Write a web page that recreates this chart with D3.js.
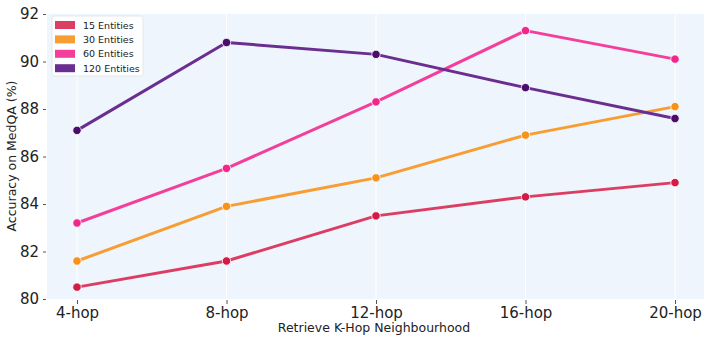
<!DOCTYPE html>
<html>
<head>
<meta charset="utf-8">
<script src="https://cdn.jsdelivr.net/npm/d3@7"></script>
<style>
  html, body { margin: 0; padding: 0; background: #fff; }
  svg { display: block; font-family: "DejaVu Sans", sans-serif; }
</style>
</head>
<body>
<svg id="chart" width="706" height="341"></svg>
<script>
// Categories along the x axis
const hops = ["4-hop", "8-hop", "12-hop", "16-hop", "20-hop"];
// Series names and values (accuracy %)
const seriesNames = ["15 Entities", "30 Entities", "60 Entities", "120 Entities"];
const acc15 = [80.5, 81.6, 83.5, 84.3, 84.9];
const acc30 = [81.6, 83.9, 85.1, 86.9, 88.1];
const acc60 = [83.2, 85.5, 88.3, 91.3, 90.1];
const acc120 = [87.1, 90.8, 90.3, 88.9, 87.6];
const yTicks = [80, 82, 84, 86, 88, 90, 92];

const lineColors = ["#dc3d63", "#f89d32", "#f33f9b", "#6a2d90"];
const dotColors = ["#d21b47", "#f7931d", "#f0268a", "#4a0d6a"];
const seriesValues = [acc15, acc30, acc60, acc120];

const svg = d3.select("#chart");
const plot = { left: 47, right: 704, top: 14, bottom: 299 };

const x = d3.scalePoint().domain(hops).range([77, 675]);
const y = d3.scaleLinear().domain([80, 92]).range([plot.bottom, plot.top]);

// Plot background
svg.append("rect")
  .attr("x", plot.left).attr("y", plot.top)
  .attr("width", plot.right - plot.left).attr("height", plot.bottom - plot.top)
  .attr("fill", "#eef5fc");

// Vertical white grid lines
svg.append("g").selectAll("line").data(hops).join("line")
  .attr("x1", d => x(d)).attr("x2", d => x(d))
  .attr("y1", plot.top).attr("y2", plot.bottom)
  .attr("stroke", "#ffffff").attr("stroke-width", 1);

// Axes
const yAxis = svg.append("g")
  .attr("transform", `translate(${plot.left - 1},0)`)
  .call(d3.axisLeft(y).tickValues(yTicks).tickSize(3).tickPadding(4));
yAxis.select(".domain").remove();
yAxis.selectAll("line").attr("stroke", "#555");
yAxis.selectAll("text").attr("font-size", 15).attr("fill", "#222")
  .attr("font-family", "DejaVu Sans, sans-serif");

const xAxis = svg.append("g")
  .attr("transform", `translate(0,${plot.bottom + 1})`)
  .call(d3.axisBottom(x).tickSize(4).tickPadding(3));
xAxis.select(".domain").remove();
xAxis.selectAll("line").attr("stroke", "#555");
xAxis.selectAll("text").attr("font-size", 15).attr("fill", "#222")
  .attr("font-family", "DejaVu Sans, sans-serif");

// Axis titles
svg.append("text")
  .attr("x", 374).attr("y", 332)
  .attr("text-anchor", "middle").attr("font-size", 12.5).attr("fill", "#222")
  .text("Retrieve K-Hop Neighbourhood");

svg.append("text")
  .attr("transform", "translate(16,156) rotate(-90)")
  .attr("text-anchor", "middle").attr("font-size", 12.5).attr("fill", "#222")
  .text("Accuracy on MedQA (%)");

// Lines and markers
const line = d3.line().x((d, i) => x(hops[i])).y(d => y(d));
seriesValues.forEach((vals, s) => {
  const g = svg.append("g");
  g.append("path").datum(vals)
    .attr("d", line).attr("fill", "none")
    .attr("stroke", lineColors[s]).attr("stroke-width", 3)
    .attr("stroke-linejoin", "round").attr("stroke-linecap", "round");
  g.selectAll("circle").data(vals).join("circle")
    .attr("cx", (d, i) => x(hops[i])).attr("cy", d => y(d))
    .attr("r", 4.2).attr("fill", dotColors[s])
    .attr("stroke", "#fff").attr("stroke-width", 0.8);
});

// Legend
const lg = svg.append("g").attr("transform", "translate(52,16)");
lg.append("rect").attr("x", 0).attr("y", 0).attr("width", 91).attr("height", 60)
  .attr("rx", 2).attr("fill", "#ffffff").attr("fill-opacity", 0.85)
  .attr("stroke", "#e3e3e3").attr("stroke-width", 0.8);
seriesNames.forEach((name, i) => {
  const row = lg.append("g").attr("transform", `translate(3,${9 + i * 14.4})`);
  row.append("rect").attr("width", 20).attr("height", 8).attr("y", -4)
    .attr("fill", lineColors[i]);
  row.append("text").attr("x", 28).attr("y", 3.5).attr("font-size", 9.5)
    .attr("fill", "#222").text(name);
});
</script>
</body>
</html>
